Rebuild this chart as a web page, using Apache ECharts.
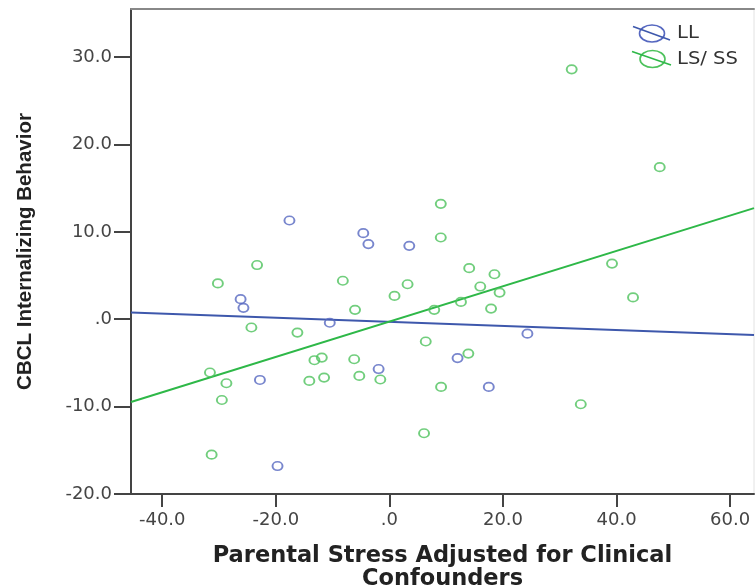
<!DOCTYPE html>
<html><head><meta charset="utf-8">
<script src="https://cdn.jsdelivr.net/npm/echarts@6/dist/echarts.min.js"></script>
<style>html,body{margin:0;padding:0;background:#fff}#c{width:755px;height:588px}</style>
</head><body><div id="c"></div>
<script>
// ---- data ----
const seriesNames = ['LL', 'LS/ SS'];
const llX = [-17.6, -4.6, -3.7, -26.2, -25.7, 3.5, -10.5, -22.8, -1.9, 12.0, 17.5, 24.3, -19.7];
const llY = [11.3, 9.85, 8.6, 2.3, 1.3, 8.4, -0.4, -6.95, -5.7, -4.45, -7.75, -1.65, -16.8];
const lsX = [-30.2, -23.3, -8.2, 32.1, 47.6, 9.05, 9.05, 14.05, 18.5, 3.2, 16.0, 19.4, 0.9, 39.2, 42.9,
             7.9, 12.6, 17.9, 6.4, 13.9, -1.6, 9.1, 33.7, 6.1, -6.05, -24.3, -16.2, -31.6, -28.7, -29.5,
             -13.2, -11.9, -14.1, -11.5, -6.2, -5.3, -31.3];
const lsY = [4.1, 6.2, 4.4, 28.6, 17.4, 13.2, 9.35, 5.84, 5.15, 4.0, 3.74, 3.05, 2.67, 6.37, 2.5,
             1.07, 1.98, 1.22, -2.55, -3.93, -6.9, -7.75, -9.73, -13.05, 1.07, -0.95, -1.53, -6.1, -7.33, -9.24,
             -4.69, -4.39, -7.06, -6.68, -4.58, -6.49, -15.5];
const fitX = [-45.5, 64.2];
const llFitY = [0.77, -1.80];
const lsFitY = [-9.47, 12.71];
const xTicks = [-40, -20, 0, 20, 40, 60];
const yTicks = [-20, -10, 0, 10, 20, 30];
const xRange = [-45.5, 64.2];
const yRange = [-20, 35.5];
const xTitle = 'Parental Stress Adjusted for Clinical\nConfounders';
const yTitle = 'CBCL Internalizing Behavior';

// ---- styles ----
const blueLine = '#3E58AC', greenLine = '#2EB848';
const blueMark = '#5668C0', greenMark = '#4DC25C';
const fmt = v => (v === 0 ? '.0' : v.toFixed(1));
const zip = (a, b) => a.map((v, i) => [v, b[i]]);

const chart = echarts.init(document.getElementById('c'), null, {renderer: 'canvas'});
const tickFont = {fontFamily: 'DejaVu Sans', fontSize: 18, color: '#444'};

chart.setOption({
  animation: false,
  backgroundColor: '#fff',
  grid: {left: 131, right: 1, top: 9, bottom: 94, show: true, borderColor: '#e2e2e2', borderWidth: 1,
         containLabel: false, outerBoundsMode: 'none'},
  xAxis: [{
    type: 'value', min: xRange[0], max: xRange[1], position: 'bottom',
    splitLine: {show: false},
    axisLine: {show: true, onZero: false, lineStyle: {color: '#444', width: 2}},
    axisTick: {show: true, length: 13, customValues: xTicks, lineStyle: {color: '#444', width: 2}},
    axisLabel: Object.assign({margin: 17, customValues: xTicks, formatter: fmt}, tickFont),
    name: xTitle, nameLocation: 'middle', nameGap: 51,
    nameTextStyle: {fontFamily: 'DejaVu Sans', fontWeight: 'bold', fontSize: 22.5, lineHeight: 23, color: '#222'}
  }, {
    type: 'value', min: xRange[0], max: xRange[1], position: 'top',
    splitLine: {show: false},
    axisLine: {show: true, onZero: false, lineStyle: {color: '#888', width: 2}},
    axisTick: {show: false}, axisLabel: {show: false}
  }],
  yAxis: [{
    type: 'value', min: yRange[0], max: yRange[1],
    splitLine: {show: false},
    axisLine: {show: true, onZero: false, lineStyle: {color: '#444', width: 2}},
    axisTick: {show: true, length: 17, customValues: yTicks, lineStyle: {color: '#444', width: 2}},
    axisLabel: Object.assign({margin: 19, customValues: yTicks, formatter: fmt}, tickFont),
    name: yTitle, nameLocation: 'middle', nameGap: 95, nameRotate: 90,
    nameTextStyle: {fontFamily: 'Liberation Sans', fontWeight: 'bold', fontSize: 20.5, color: '#222'}
  }],
  series: [
    {name: seriesNames[0] + ' fit', type: 'line', data: zip(fitX, llFitY), symbol: 'none',
     lineStyle: {color: blueLine, width: 2}, z: 2, silent: true},
    {name: seriesNames[1] + ' fit', type: 'line', data: zip(fitX, lsFitY), symbol: 'none',
     lineStyle: {color: greenLine, width: 2}, z: 2, silent: true},
    {name: seriesNames[0], type: 'scatter', data: zip(llX, llY), symbol: 'circle', symbolSize: [10, 8.5],
     itemStyle: {color: 'rgba(255,255,255,0)', borderColor: blueMark, borderWidth: 1.8}, z: 3},
    {name: seriesNames[1], type: 'scatter', data: zip(lsX, lsY), symbol: 'circle', symbolSize: [10, 8.5],
     itemStyle: {color: 'rgba(255,255,255,0)', borderColor: greenMark, borderWidth: 1.8}, z: 3}
  ],
  graphic: [
    {type: 'ellipse', shape: {cx: 652, cy: 33.5, rx: 12.5, ry: 8.5}, style: {fill: 'none', stroke: blueMark, lineWidth: 1.6}, z: 10},
    {type: 'line', shape: {x1: 633, y1: 26.5, x2: 670, y2: 40}, style: {stroke: blueLine, lineWidth: 1.6}, z: 10},
    {type: 'text', x: 677, y: 34, scaleX: 1.15, originX: 0, z: 10,
     style: {text: seriesNames[0], font: '17px "DejaVu Sans"', fill: '#333', verticalAlign: 'middle'}},
    {type: 'ellipse', shape: {cx: 652.5, cy: 59, rx: 12.5, ry: 8.5}, style: {fill: 'none', stroke: greenMark, lineWidth: 1.6}, z: 10},
    {type: 'line', shape: {x1: 632, y1: 51.5, x2: 671, y2: 65}, style: {stroke: greenLine, lineWidth: 1.6}, z: 10},
    {type: 'text', x: 677, y: 59.5, scaleX: 1.15, originX: 0, z: 10,
     style: {text: seriesNames[1], font: '17px "DejaVu Sans"', fill: '#333', verticalAlign: 'middle'}}
  ]
});
</script>
</body></html>
